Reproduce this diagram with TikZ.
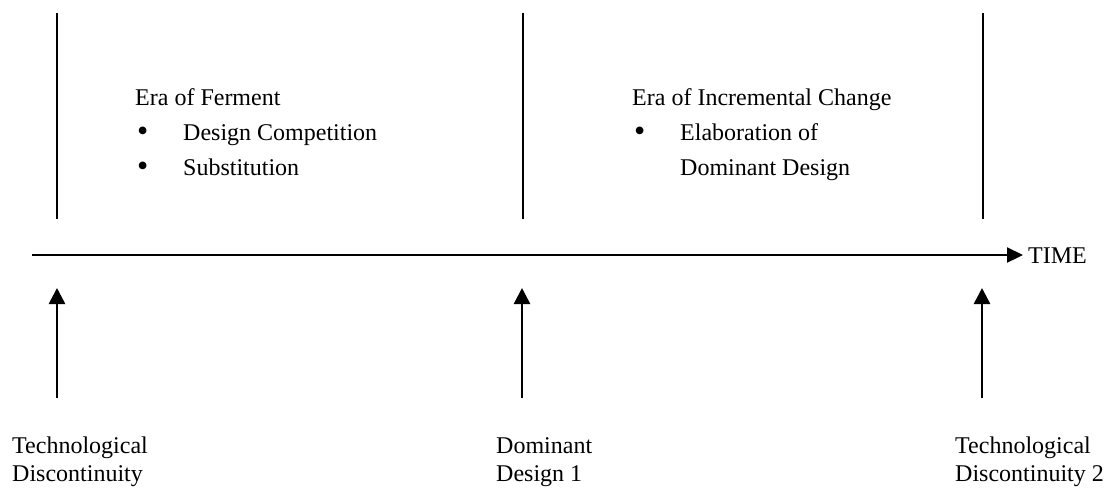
\documentclass[tikz,border=0pt]{standalone}
\usepackage{fontspec}
\setmainfont{Liberation Serif}
\usetikzlibrary{arrows.meta}
\begin{document}
\begin{tikzpicture}[x=1pt,y=-1pt,
  txt/.style={anchor=base west,inner sep=0pt,font=\fontsize{24}{28}\selectfont},
  bul/.style={anchor=base west,inner sep=0pt,font=\fontsize{32}{32}\selectfont},
  era/.style={line width=2pt},
  axis/.style={line width=2.2pt,-{Triangle[length=16pt,width=15pt]}},
  uparrow/.style={line width=2.6pt,-{Triangle[length=16pt,width=16pt]}}]
\useasboundingbox (0,0) rectangle (1107,493);
% era separators
\coordinate (v1t) at (57,13);  \coordinate (v1b) at (57,219);
\coordinate (v2t) at (523,13); \coordinate (v2b) at (523,219);
\coordinate (v3t) at (983,13); \coordinate (v3b) at (983,219);
\draw[era] (v1t) -- (v1b);
\draw[era] (v2t) -- (v2b);
\draw[era] (v3t) -- (v3b);
% time axis
\coordinate (axs) at (32,255);
\node[txt] (time) at (1028,263) {TIME};
\coordinate (axe) at (1023,255);
\draw[axis] (axs) -- (axe);
% upward arrows
\coordinate (a1b) at (57,398);  \coordinate (a1t) at (57,288);
\coordinate (a2b) at (522,398); \coordinate (a2t) at (522,288);
\coordinate (a3b) at (982,398); \coordinate (a3t) at (982,288);
\draw[uparrow] (a1b) -- (a1t);
\draw[uparrow] (a2b) -- (a2t);
\draw[uparrow] (a3b) -- (a3t);
% era of ferment
\node[txt] (ef) at (135,105) {Era of Ferment};
\node[bul] (efb1) at (137,141) {\textbullet};
\node[txt] (ef1) at (183,140) {Design Competition};
\node[bul] (efb2) at (137,176) {\textbullet};
\node[txt] (ef2) at (183,175) {Substitution};
% era of incremental change
\node[txt] (ei) at (632,105) {Era of Incremental Change};
\node[bul] (eib1) at (634,141) {\textbullet};
\node[txt] (ei1) at (680,140) {Elaboration of};
\node[txt] (ei2) at (680,175) {Dominant Design};
% bottom labels
\node[txt] (l1a) at (12,453) {Technological};
\node[txt] (l1b) at (12,481) {Discontinuity};
\node[txt] (l2a) at (496,453) {Dominant};
\node[txt] (l2b) at (496,481) {Design 1};
\node[txt] (l3a) at (955,453) {Technological};
\node[txt] (l3b) at (955,481) {Discontinuity 2};
\end{tikzpicture}
\end{document}
